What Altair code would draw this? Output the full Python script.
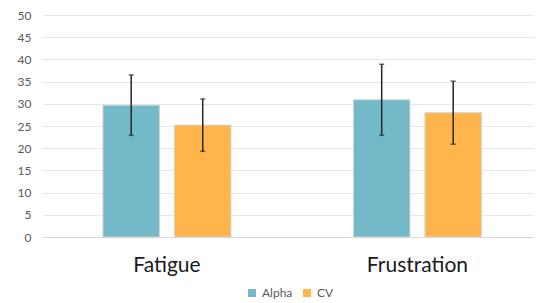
import altair as alt
import pandas as pd

categories = ["Fatigue", "Fatigue", "Frustration", "Frustration"]
series = ["Alpha", "CV", "Alpha", "CV"]
means = [29.7, 25.2, 30.9, 28.0]
errors = [6.8, 5.9, 8.0, 7.1]
y_ticks = [0, 5, 10, 15, 20, 25, 30, 35, 40, 45, 50]

df = pd.DataFrame({"category": categories, "series": series, "mean": means, "err": errors})
df["low"] = df["mean"] - df["err"]
df["high"] = df["mean"] + df["err"]

FONT = "Lato"
xscale = alt.Scale(paddingInner=0.489, paddingOuter=0.2266, align=0.537)
xaxis = alt.Axis(labelAngle=0, labelFontSize=21, labelColor="#1a1a1a",
                 labelFont=FONT, labelPadding=17, ticks=False,
                 domainColor="#d9d9d9", grid=False)
yaxis = alt.Axis(values=y_ticks, labelFontSize=12, labelColor="#595959",
                 labelFont=FONT, ticks=False, domain=False, labelPadding=11,
                 labelOverlap=False, gridColor="#e8e8e8", gridWidth=1)
xo = alt.XOffset("series:N", scale=alt.Scale(paddingInner=0.21, paddingOuter=0))
yscale = alt.Scale(domain=[0, 50], nice=False)
x = alt.X("category:N", title=None, scale=xscale, axis=xaxis)

bars = alt.Chart(df).mark_bar(stroke="#d4d4d4", strokeWidth=1).encode(
    x=x, xOffset=xo,
    y=alt.Y("mean:Q", title=None, scale=yscale, axis=yaxis),
    color=alt.Color("series:N", title=None,
                    scale=alt.Scale(domain=["Alpha", "CV"], range=["#74b9c8", "#ffb54c"]),
                    legend=alt.Legend(orient="none", direction="horizontal",
                                      legendX=204, legendY=272,
                                      symbolType="square", symbolSize=64,
                                      symbolStrokeWidth=0, labelFontSize=12,
                                      labelColor="#595959", labelFont=FONT,
                                      columnPadding=8)),
)

rules = alt.Chart(df).mark_rule(color="#262626", strokeWidth=1.5).encode(
    x=x, xOffset=xo, y=alt.Y("low:Q", title=None, scale=yscale, axis=yaxis), y2="high:Q")
caps_hi = alt.Chart(df).mark_tick(color="#262626", size=5, thickness=1.5).encode(
    x=x, xOffset=xo, y=alt.Y("high:Q", title=None, scale=yscale, axis=yaxis))
caps_lo = alt.Chart(df).mark_tick(color="#262626", size=5, thickness=1.5).encode(
    x=x, xOffset=xo, y=alt.Y("low:Q", title=None, scale=yscale, axis=yaxis))

chart = alt.layer(bars, rules, caps_hi, caps_lo).properties(
    width=492, height=222,
    background="white",
    autosize=alt.AutoSizeParams(type="none"),
    padding={"left": 34, "top": 7, "right": 0, "bottom": 63},
).configure_view(stroke=None, strokeWidth=0).configure_axisY(labelOverlap=False)

chart.save("out.html", embed_options={"renderer": "svg", "actions": False})
